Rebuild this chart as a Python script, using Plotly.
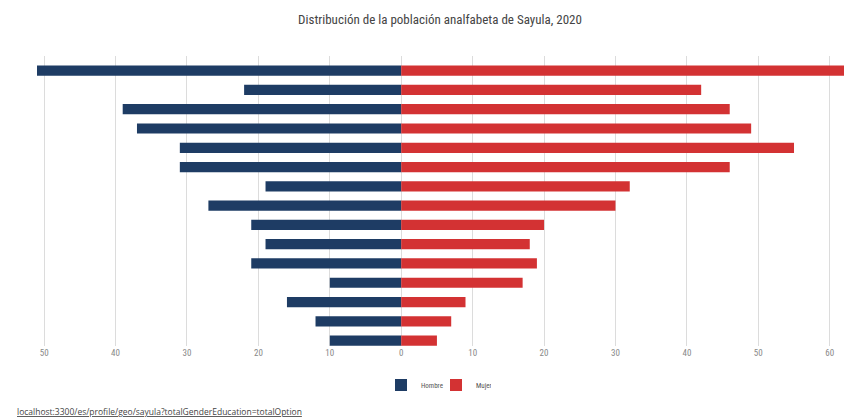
import plotly.graph_objects as go

# Data (top row first)
categories = ["85 y más", "80-84", "75-79", "70-74", "65-69", "60-64", "55-59", "50-54",
              "45-49", "40-44", "35-39", "30-34", "25-29", "20-24", "15-19"]
hombre = [51, 22, 39, 37, 31, 31, 19, 27, 21, 19, 21, 10, 16, 12, 10]
mujer = [62, 42, 46, 49, 55, 46, 32, 30, 20, 18, 19, 17, 9, 7, 5]
tick_vals = [-50, -40, -30, -20, -10, 0, 10, 20, 30, 40, 50, 60]
tick_text = ["50", "40", "30", "20", "10", "0", "10", "20", "30", "40", "50", "60"]

title_text = "Distribución de la población analfabeta de Sayula, 2020"
link_text = "localhost:3300/es/profile/geo/sayula?totalGenderEducation=totalOption"

cats_bottom_up = categories[::-1]
hombre_bu = [-v for v in hombre[::-1]]
mujer_bu = mujer[::-1]

FONT = "Liberation Sans Narrow, Roboto Condensed, Roboto, sans-serif"

W, H = 857, 409
L, R, T, B = 29, 21, 48, 71
PW, PH = W - L - R, H - T - B

fig = go.Figure()
fig.add_trace(go.Bar(
    y=cats_bottom_up, x=hombre_bu, orientation="h", name="Hombre",
    marker=dict(color="#1e3c64", line=dict(width=0)), width=0.53,
    customdata=hombre[::-1], hovertemplate="%{y}: %{customdata}<extra>Hombre</extra>",
))
fig.add_trace(go.Bar(
    y=cats_bottom_up, x=mujer_bu, orientation="h", name="Mujer",
    marker=dict(color="#d33233", line=dict(width=0)), width=0.53,
    hovertemplate="%{y}: %{x}<extra>Mujer</extra>",
))

fig.update_layout(
    width=W, height=H,
    margin=dict(l=L, r=R, t=T, b=B, autoexpand=False),
    paper_bgcolor="white", plot_bgcolor="white",
    barmode="overlay",
    title=dict(text=title_text, x=(440 - 8) / W, xanchor="center", y=1 - 11 / H, yanchor="middle",
               font=dict(family=FONT, size=13, color="#444444")),
    xaxis=dict(range=[-51, 62], tickvals=tick_vals, ticktext=tick_text,
               showgrid=True, gridcolor="#dcdcdc", gridwidth=1,
               zeroline=True, zerolinecolor="#dcdcdc", zerolinewidth=1,
               showline=False, ticks="",
               tickfont=dict(family=FONT, size=9, color="#888888")),
    yaxis=dict(categoryorder="array", categoryarray=cats_bottom_up,
               range=[-0.28, 14.76], showticklabels=False, showgrid=False,
               zeroline=False, showline=False, ticks=""),
    legend=dict(orientation="h", x=(436 - 8 - L) / PW, xanchor="center",
                y=-(385 - 8 - (T + PH)) / PH, yanchor="middle",
                font=dict(family=FONT, size=7, color="#555555"),
                itemwidth=30, entrywidth=10, entrywidthmode="pixels",
                traceorder="normal"),
    showlegend=True,
    annotations=[dict(
        text="<u>" + link_text + "</u>", xref="paper", yref="paper",
        x=(15 - 8 - L) / PW, xanchor="left", y=-(411.5 - 8 - (T + PH)) / PH, yanchor="middle",
        showarrow=False, font=dict(family="Open Sans, sans-serif", size=8.5, color="#444444"),
    )],
)

fig.write_html("out.html")
